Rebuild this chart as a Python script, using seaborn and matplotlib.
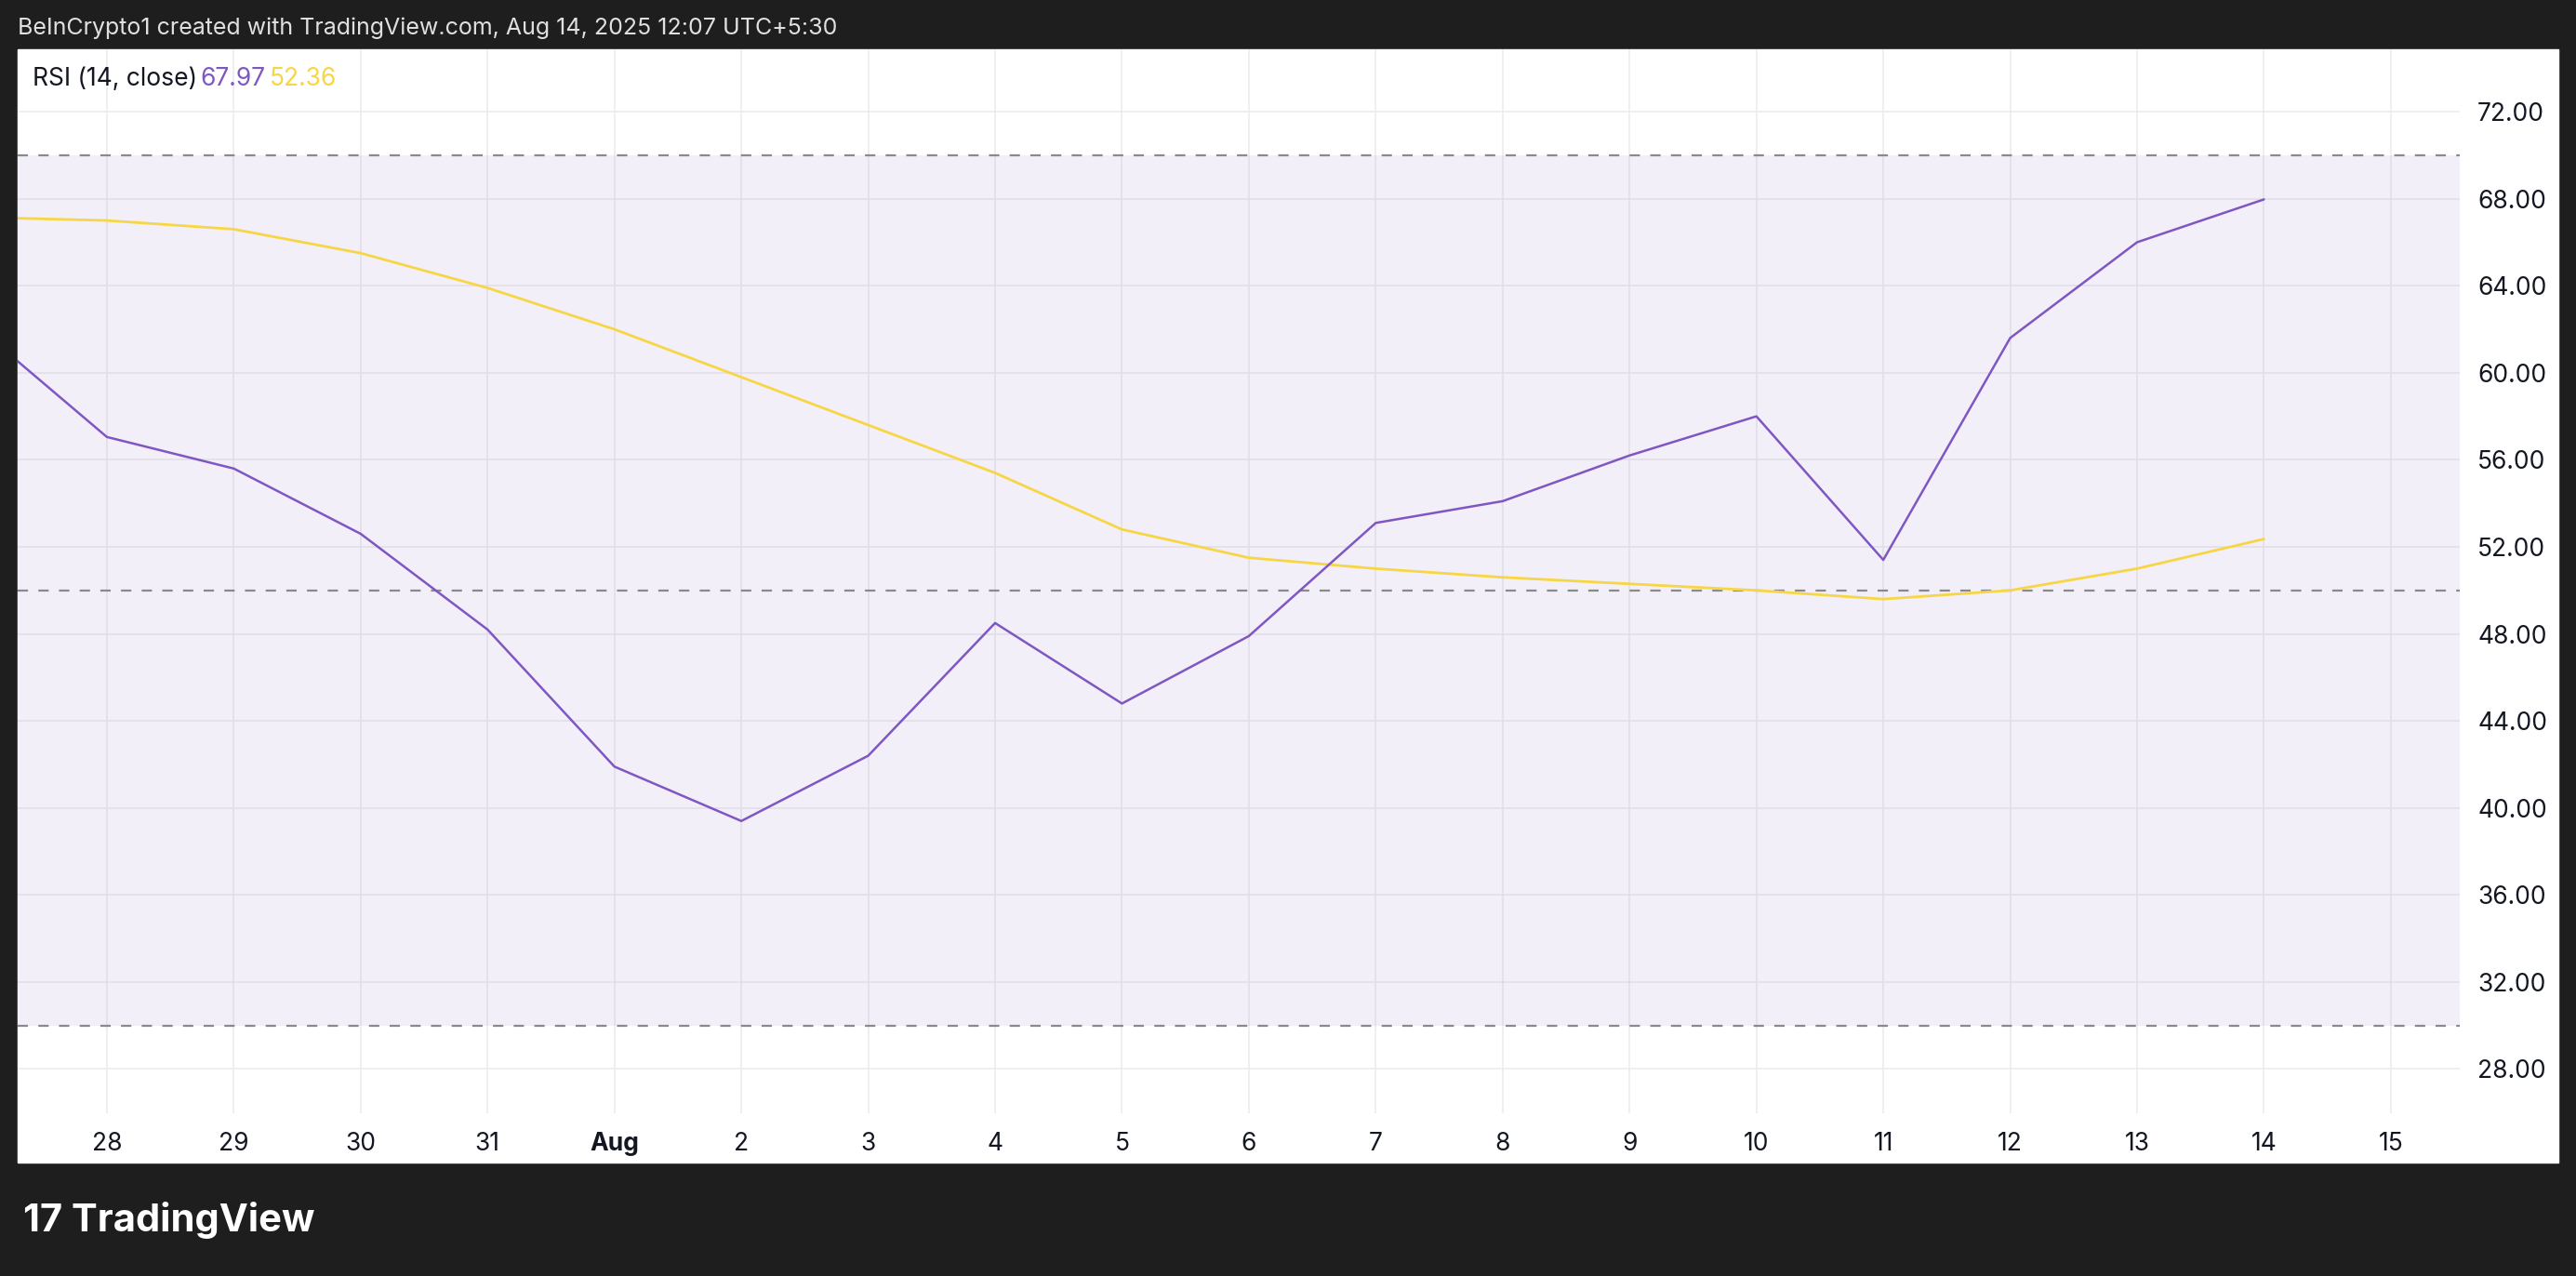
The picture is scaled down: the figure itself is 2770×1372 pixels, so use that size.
import matplotlib
matplotlib.use("Agg")
import matplotlib.pyplot as plt
import seaborn as sns
import pandas as pd

# data (day index 0 = Jul 27)
day_labels = ["27", "28", "29", "30", "31", "Aug", "2", "3", "4", "5", "6", "7", "8", "9", "10", "11", "12", "13", "14", "15"]
rsi = [62.0, 57.05, 55.6, 52.6, 48.2, 41.9, 39.4, 42.4, 48.5, 44.8, 47.9, 53.1, 54.1, 56.2, 58.0, 51.4, 61.6, 66.0, 67.97]
rsi_ma = [67.15, 67.0, 66.6, 65.5, 63.9, 62.0, 59.8, 57.6, 55.4, 52.8, 51.5, 51.0, 50.6, 50.3, 50.0, 49.6, 50.0, 51.0, 52.36]
y_ticks = [28, 32, 36, 40, 44, 48, 52, 56, 60, 64, 68, 72]

df = pd.DataFrame({"day": range(len(rsi)), "rsi": rsi, "ma": rsi_ma})

sns.set_style("white")
plt.rcParams['font.family'] = ['Inter', 'DejaVu Sans']

purple = "#7E57C2"
yellow = "#F7D645"
dark = "#1E1E1E"

fig = plt.figure(figsize=(27.7, 13.72), dpi=100)
fig.patch.set_facecolor(dark)
# white chart panel
fig.patches.append(plt.Rectangle((11/1568, 1-708/777), (1557-11)/1568, (708-30)/777,
                                 transform=fig.transFigure, color="white", zorder=-5))

ax = fig.add_axes([11/1568, 1-678/777, (1497-11)/1568, (678-30)/777])
ax.set_zorder(2)
ax.set_facecolor("white")
ax.set_xlim(0.30, 19.54)
ax.set_ylim(25.96, 74.87)

ax.axhspan(30, 70, color=purple, alpha=0.09, lw=0)
for y in y_ticks:
    ax.axhline(y, color="#ECECEC", lw=1.2, zorder=0.5)
for x in range(1, len(day_labels)):
    ax.axvline(x, color="#ECECEC", lw=1.2, zorder=0.5)
for y in [70, 50, 30]:
    ax.axhline(y, color="#8A8A8A", lw=1.6, ls=(0, (5, 5)))

sns.lineplot(data=df, x="day", y="ma", ax=ax, color=yellow, lw=2)
sns.lineplot(data=df, x="day", y="rsi", ax=ax, color=purple, lw=1.8)

for s in ax.spines.values():
    s.set_visible(False)
ax.set_xlabel("")
ax.set_ylabel("")
ax.set_xticks(range(1, len(day_labels)))
ax.set_xticklabels(day_labels[1:], fontsize=19, color="#131722")
for t in ax.get_xticklabels():
    if t.get_text() == "Aug":
        t.set_fontweight("bold")
ax.tick_params(axis="x", length=0, pad=14)
ax.yaxis.tick_right()
ax.set_yticks(y_ticks)
ax.set_yticklabels([f"{v:.2f}" for v in y_ticks], fontsize=19, color="#131722")
ax.tick_params(axis="y", length=0, pad=14)

fig.text(20/1568, 1-48/777, "RSI (14, close)", fontsize=19, color="#131722", va="center")
fig.text(122/1568, 1-48/777, "67.97", fontsize=19, color=purple, va="center")
fig.text(164/1568, 1-48/777, "52.36", fontsize=19, color=yellow, va="center")
fig.text(11/1568, 1-17/777, "BeInCrypto1 created with TradingView.com, Aug 14, 2025 12:07 UTC+5:30",
         fontsize=18, color="#E0E0E0", va="center")
fig.text(14/1568, 1-743/777, "17 TradingView", fontsize=30, color="white", fontweight="bold", va="center")

fig.savefig("out.png", dpi=100, facecolor=dark)
